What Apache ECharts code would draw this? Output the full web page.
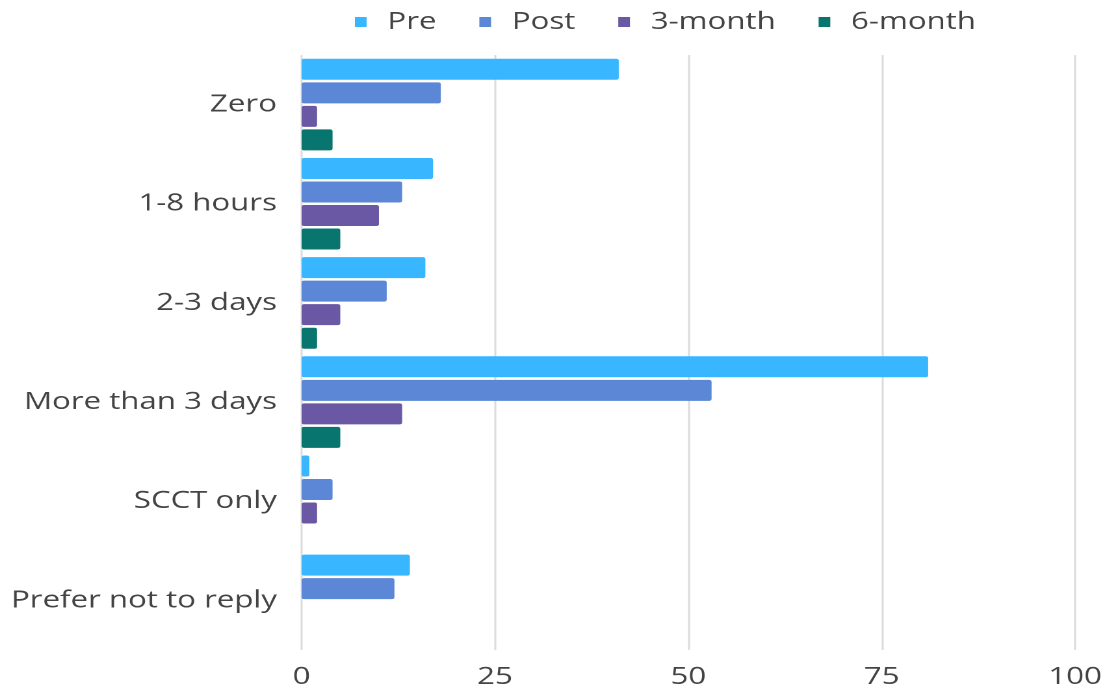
<!DOCTYPE html>
<html>
<head>
<meta charset="utf-8">
<style>
  html, body { margin: 0; padding: 0; background: #fff; overflow: hidden; }
  /* the reference picture is stretched sideways, so the chart is drawn narrow and widened */
  #chart { width: 852px; height: 689px; transform: scaleX(1.3); transform-origin: 0 0; }
</style>
<script src="https://cdn.jsdelivr.net/npm/echarts@6/dist/echarts.min.js"></script>
</head>
<body>
<div id="chart"></div>
<script>
  const categories = ["Zero", "1-8 hours", "2-3 days", "More than 3 days", "SCCT only", "Prefer not to reply"];
  const seriesNames = ["Pre", "Post", "3-month", "6-month"];
  const preValues = [41, 17, 16, 81, 1, 14];
  const postValues = [18, 13, 11, 53, 4, 12];
  const threeMonthValues = [2, 10, 5, 13, 2, 0];
  const sixMonthValues = [4, 5, 2, 5, 0, 0];
  const xTicks = [0, 25, 50, 75, 100];
  const colors = ["#38b6ff", "#5b87d6", "#6a58a4", "#08756f"];

  const font = "'Open Sans', sans-serif";
  const allValues = [preValues, postValues, threeMonthValues, sixMonthValues];

  const chart = echarts.init(document.getElementById("chart"), null, {
    renderer: "canvas",
    devicePixelRatio: 2
  });

  chart.setOption({
    animation: false,
    color: colors,
    legend: {
      top: 5,
      left: 268,
      itemWidth: 9,
      itemHeight: 10,
      itemGap: 33,
      icon: "rect",
      textStyle: { fontFamily: font, fontSize: 24, color: "#444", padding: [0, 0, 0, 11] },
      data: seriesNames
    },
    grid: { left: 232, right: 25, top: 55, bottom: 39 },
    xAxis: {
      type: "value",
      min: xTicks[0],
      max: xTicks[xTicks.length - 1],
      interval: 25,
      axisLine: { show: false },
      axisTick: { show: false },
      axisLabel: { fontFamily: font, fontSize: 24, color: "#444", margin: 15 },
      splitLine: { lineStyle: { color: "#dcdcdc", width: 1.5 } }
    },
    yAxis: {
      type: "category",
      inverse: true,
      data: categories,
      axisLine: { show: false },
      axisTick: { show: false },
      axisLabel: { fontFamily: font, fontSize: 24, color: "#444", margin: 19 }
    },
    series: seriesNames.map((name, i) => ({
      name: name,
      type: "bar",
      barWidth: 21,
      barGap: "12%",
      data: allValues[i],
      itemStyle: { color: colors[i], borderRadius: 2 }
    }))
  });
</script>
</body>
</html>
